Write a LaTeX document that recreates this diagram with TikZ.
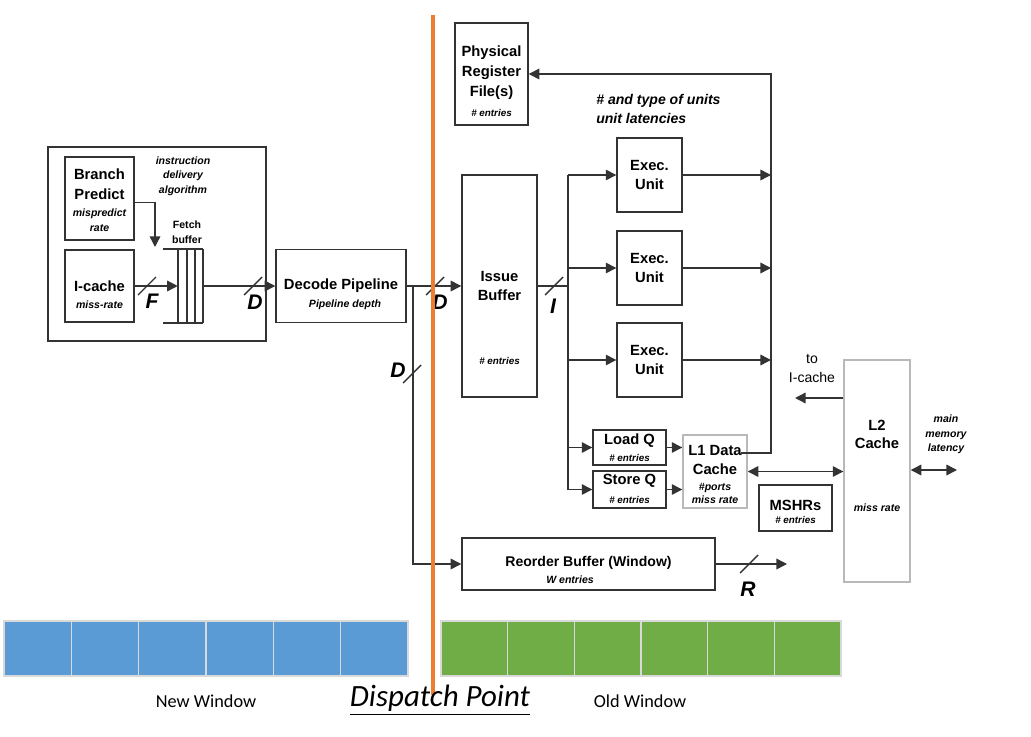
\documentclass[tikz,border=0pt]{standalone}
\usepackage{fontspec}
\setmainfont{Liberation Sans}
\newfontfamily\winfont{Carlito}
\usetikzlibrary{arrows.meta}
\definecolor{linegray}{HTML}{333333}
\definecolor{dispatchorange}{HTML}{ED7D31}
\definecolor{newblue}{HTML}{5B9BD5}
\definecolor{oldgreen}{HTML}{70AD47}

\begin{document}
\begin{tikzpicture}[x=0.025cm, y=-0.025cm,
        box/.style={rectangle, draw=linegray, line width=1pt, inner sep=0pt},
        lightbox/.style={box, draw=gray!55},
        wire/.style={draw=linegray, line width=1pt},
        flow/.style={wire, -{Triangle[length=7.5pt,width=7.5pt]}},
        biflow/.style={wire, {Triangle[length=7.5pt,width=7.5pt]}-{Triangle[length=7.5pt,width=7.5pt]}},
        txt/.style={font=\fontsize{10.5}{14.2}\selectfont\bfseries, align=center, inner sep=0pt},
        note/.style={font=\fontsize{7.5}{10.5}\selectfont\bfseries\itshape, align=center, inner sep=0pt},
        busw/.style={font=\fontsize{15}{15}\selectfont\bfseries\itshape, inner sep=0pt},
        plain/.style={font=\fontsize{10}{13.5}\selectfont, align=center, inner sep=0pt},
        cell/.style={draw=gray!30, line width=0.8pt, minimum height=1.375cm, inner sep=0pt},
        winlabel/.style={font=\winfont\fontsize{13}{13}\selectfont, inner sep=0pt},
    ]
        \useasboundingbox (0,0) rectangle (1031,736);

        % Front end
        \node[box, minimum width=5.45cm, minimum height=4.85cm] (frontend) at (157,244) {};
        \node[box, minimum width=1.725cm, minimum height=2.075cm] (pred) at (99.5,198.5) {};
        \node[txt] (predt) at (99.5,184) {Branch\\Predict};
        \node[note] (predn) at (99.5,220.5) {mispredict\\rate};
        \node[note, font=\fontsize{7.5}{10.3}\selectfont\bfseries\itshape] (algo) at (183,176) {instruction\\delivery\\algorithm};
        \node[box, minimum width=1.725cm, minimum height=1.8cm] (icache) at (99.5,286) {};
        \node[txt] (icachet) at (99.5,286) {I-cache};
        \node[note] (icachen) at (99.5,305) {miss-rate};

        % Fetch buffer
        \node[minimum width=0.625cm, minimum height=1.85cm, inner sep=0pt] (fetch) at (190.5,286) {};
        \foreach \x in {178,187,195,203}
            \draw[wire] (\x,249) -- (\x,323);
        \draw[wire] (163,249) -- (203,249) (163,323) -- (203,323);
        \node[note, font=\fontsize{7.5}{10.5}\selectfont\bfseries] (fetcht) at (187,232) {Fetch\\buffer};
        \coordinate (fbin) at (155,247);
        \draw[flow] ([yshift=-3pt]pred.east) -| (fbin);
        \draw[flow] (icache.east) -- (fetch.west);
        \draw[wire] (147,286) ++(-9,9) -- ++(18,-18);
        \node[busw] (busf) at (152,301) {F};

        % Decode
        \node[box, minimum width=3.25cm, minimum height=1.825cm] (decode) at (341,286) {};
        \node[txt] (decodet) at (341,286) {Decode Pipeline};
        \node[note] (decoden) at (345,305) {Pipeline depth};
        \draw[flow] (fetch.east) -- (decode.west);
        \draw[wire] (253,286) ++(-9,9) -- ++(18,-18);
        \node[busw] (busd1) at (255,302) {D};

        % Register file
        \node[box, minimum width=1.825cm, minimum height=2.55cm] (prf) at (491.5,74) {};
        \node[txt] (prft) at (491.5,73) {Physical\\Register\\File(s)};
        \node[note, font=\fontsize{7}{9}\selectfont\bfseries\itshape] (prfn) at (491.5,113) {\# entries};
        \node[txt, font=\fontsize{10}{13.5}\selectfont\bfseries\itshape, align=left, anchor=west] (units) at (596,108.5) {\# and type of units\\unit latencies};

        % Issue buffer
        \node[box, minimum width=1.875cm, minimum height=5.55cm] (issue) at (499.5,286) {};
        \node[txt] (issuet) at (499.5,286) {Issue\\Buffer};
        \node[note, font=\fontsize{7}{9}\selectfont\bfseries\itshape] (issuen) at (499.5,361) {\# entries};
        \coordinate (dsplit) at (413,286);
        \draw[flow] (decode.east) -- (issue.west);
        \draw[wire] (435,286) ++(-9,9) -- ++(18,-18);
        \node[busw] (busd2) at (440,302) {D};
        \draw[wire] (412,374) ++(-9,9) -- ++(18,-18);
        \node[busw] (busd3) at (398,370) {D};

        % Execution units
        \node[box, txt, font=\fontsize{10.5}{13.5}\selectfont\bfseries, minimum width=1.625cm, minimum height=1.85cm] (exec1) at (649.5,175) {Exec.\\Unit};
        \node[box, txt, font=\fontsize{10.5}{13.5}\selectfont\bfseries, minimum width=1.625cm, minimum height=1.85cm] (exec2) at (649.5,268) {Exec.\\Unit};
        \node[box, txt, font=\fontsize{10.5}{13.5}\selectfont\bfseries, minimum width=1.625cm, minimum height=1.85cm] (exec3) at (649.5,360) {Exec.\\Unit};

        % Memory side
        \node[box, minimum width=1.825cm, minimum height=0.875cm] (loadq) at (629.5,447.5) {};
        \node[txt] (loadqt) at (629.5,441) {Load Q};
        \node[note, font=\fontsize{7}{9}\selectfont\bfseries\itshape] (loadqn) at (629.5,458) {\# entries};
        \node[box, minimum width=1.825cm, minimum height=0.925cm] (storeq) at (629.5,489.5) {};
        \node[txt] (storeqt) at (629.5,481) {Store Q};
        \node[note, font=\fontsize{7}{9}\selectfont\bfseries\itshape] (storeqn) at (629.5,500) {\# entries};
        \node[lightbox, minimum width=1.6cm, minimum height=1.825cm] (l1) at (715,471.5) {};
        \node[txt, font=\fontsize{10.5}{13.5}\selectfont\bfseries] (l1t) at (715,459.5) {L1 Data\\Cache};
        \node[note, font=\fontsize{7.5}{9.2}\selectfont\bfseries\itshape] (l1n) at (715,493.5) {\#ports\\miss rate};
        \node[box, minimum width=1.825cm, minimum height=1.15cm] (mshr) at (795.5,508) {};
        \node[txt] (mshrt) at (795.5,505) {MSHRs};
        \node[note, font=\fontsize{7}{9}\selectfont\bfseries\itshape] (mshrn) at (795.5,520) {\# entries};
        \node[lightbox, minimum width=1.65cm, minimum height=5.55cm] (l2) at (877,471) {};
        \node[txt, font=\fontsize{10.5}{12.8}\selectfont\bfseries] (l2t) at (877,434) {L2\\Cache};
        \node[note] (l2n) at (877,508) {miss rate};
        \node[plain] (toict) at (812,368.5) {to\\I-cache};
        \node[note, font=\fontsize{7.5}{10.3}\selectfont\bfseries\itshape] (memt) at (946,434.5) {main\\memory\\latency};

        % Reorder buffer
        \node[box, minimum width=6.325cm, minimum height=1.3cm] (rob) at (588.5,564) {};
        \node[txt, font=\fontsize{10}{12}\selectfont\bfseries] (robt) at (588.5,563) {Reorder Buffer (Window)};
        \node[note] (robn) at (570,580) {W entries};
        \draw[flow] (dsplit) |- (rob.west);

        % Issue paths
        \coordinate (ibus) at (568,286);
        \draw[wire] (issue.east) -- (ibus);
        \draw[wire] (ibus |- exec1.west) -- (ibus |- storeq.west);
        \draw[wire] (554,286) ++(-9,9) -- ++(18,-18);
        \node[busw] (busi) at (553,306) {I};
        \foreach \u in {exec1,exec2,exec3,loadq,storeq}
            \draw[flow] (ibus |- \u.west) -- (\u.west);
        \draw[flow] (loadq.east) -- (loadq.east -| l1.west);
        \draw[flow] (storeq.east) -- (storeq.east -| l1.west);

        % Writeback
        \coordinate (wbus) at (771,74);
        \coordinate (l1tap) at (741,453);
        \foreach \u in {exec1,exec2,exec3}
            \draw[flow] (\u.east) -- (\u.east -| wbus);
        \draw[flow] (l1tap) -| (wbus) -- (prf.east);

        % Cache links
        \coordinate (toic) at (795,398);
        \coordinate (mem) at (957,470);
        \coordinate (robout) at (787,564);
        \draw[biflow] (l1.east) -- (l1.east -| l2.west);
        \draw[flow] (toic -| l2.west) -- (toic);
        \draw[biflow] (mem -| l2.east) -- (mem);
        \draw[flow] (rob.east) -- (robout);
        \draw[wire] (749,564) ++(-9,9) -- ++(18,-18);
        \node[busw] (busr) at (748,589) {R};

        % Window
        \foreach \i in {0,...,5} {
            \node[cell, fill=newblue, minimum width=1.683cm] (new\i) at ({37.67+67.33*\i},648.5) {};
            \node[cell, fill=oldgreen, minimum width=1.667cm] (old\i) at ({474.33+66.67*\i},648.5) {};
        }
        \coordinate (dtop) at (433,15);
        \coordinate (dbot) at (433,695);
        \draw[dispatchorange, line width=2.2pt] (dtop) -- (dbot);
        \node[winlabel] (newt) at (206,701) {New Window};
        \node[winlabel] (oldt) at (640,701) {Old Window};
        \node[winlabel, font=\winfont\itshape\fontsize{22}{22}\selectfont] (dispt) at (440,700) {\underline{Dispatch Point}};
\end{tikzpicture}
\end{document}
